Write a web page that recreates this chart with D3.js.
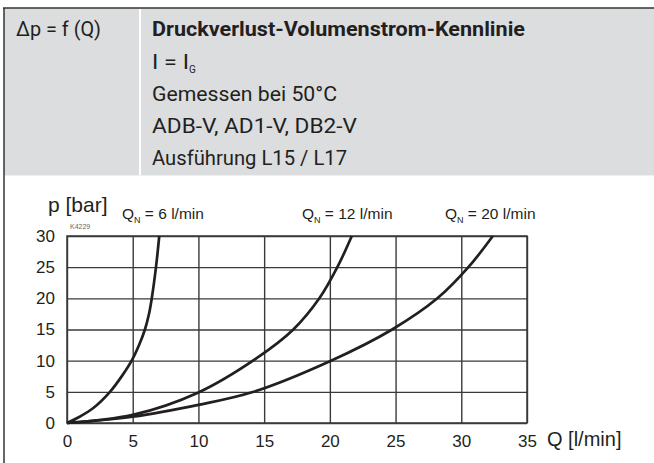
<!DOCTYPE html>
<html>
<head>
<meta charset="utf-8">
<script src="https://cdn.jsdelivr.net/npm/d3@7"></script>
<style>
  body { margin: 0; background: #fff; }
  .hdr { font-family: Roboto, "Liberation Sans", sans-serif; fill: #231f20; }
  .chart text { font-family: "Liberation Sans", Arial, sans-serif; fill: #231f20; }
  .grid line { stroke: #3a3a3a; stroke-width: 1.4; }
  .grid .domain { display: none; }
</style>
</head>
<body>
<svg id="chart" width="654" height="463"></svg>
<script>
/* global d3 */

// header texts
const headerLeft = 'Δp = f (Q)';
const headerTitle = 'Druckverlust-Volumenstrom-Kennlinie';
const headerLines = ['Gemessen bei 50°C', 'ADB-V, AD1-V, DB2-V', 'Ausführung L15 / L17'];

// axes
const xTicks = [0, 5, 10, 15, 20, 25, 30, 35];
const yTicks = [0, 5, 10, 15, 20, 25, 30];

// curves: Q [l/min] -> p [bar]
const q6 = [0, 1, 2, 3.27, 4.2, 4.92, 5.5, 5.93, 6.25, 6.45, 6.77, 7.02];
const p6 = [0, 1.05, 2.4, 5, 7.6, 10, 12.6, 15, 17.6, 20, 25, 30];

const q12 = [0, 5, 10, 14.43, 17.22, 19.2, 20.57, 21.67];
const p12 = [0, 1.3, 4.9, 10.4, 15, 20, 25, 30];

const q20 = [0, 5, 10, 14.2, 20, 24.74, 28.18, 30.54, 32.4];
const p20 = [0, 1.0, 2.9, 5, 9.9, 15, 20, 25, 30];

const curveLabels = [
  { n: '6', x: 122 },
  { n: '12', x: 302 },
  { n: '20', x: 445 },
];

const svg = d3.select('#chart');

/* HEADER */
svg.append('rect')
  .attr('x', 4).attr('y', 8).attr('width', 650).attr('height', 167)
  .attr('fill', '#dcdddf');
svg.append('line')
  .attr('x1', 140).attr('x2', 140).attr('y1', 9).attr('y2', 175)
  .attr('stroke', '#fff').attr('stroke-width', 2);
svg.append('line')
  .attr('x1', 4).attr('x2', 654).attr('y1', 175.5).attr('y2', 175.5)
  .attr('stroke', '#f0f0f0').attr('stroke-width', 1);
svg.append('line')
  .attr('x1', 3).attr('x2', 654).attr('y1', 8).attr('y2', 8)
  .attr('stroke', '#333').attr('stroke-width', 1.5);
svg.append('line')
  .attr('x1', 4).attr('x2', 4).attr('y1', 8).attr('y2', 463)
  .attr('stroke', '#333').attr('stroke-width', 1.5);

// the original uses a condensed face, squeeze each line to its measured width
const hdr = svg.append('g').attr('class', 'hdr').attr('font-size', 20);
hdr.append('text').attr('x', 16).attr('y', 36)
  .attr('textLength', 85).attr('lengthAdjust', 'spacingAndGlyphs')
  .text(headerLeft);
hdr.append('text').attr('x', 152).attr('y', 36)
  .attr('font-weight', 'bold')
  .attr('textLength', 373).attr('lengthAdjust', 'spacingAndGlyphs')
  .text(headerTitle);
const ig = hdr.append('text').attr('x', 152).attr('y', 68.5);
ig.append('tspan').attr('textLength', 37).attr('lengthAdjust', 'spacingAndGlyphs').text('I = I');
ig.append('tspan').attr('font-size', 10).attr('dy', 4).text('G');
const lineWidths = [185, 205, 195];
headerLines.forEach((t, i) => {
  hdr.append('text').attr('x', 152).attr('y', 100.5 + i * 32.3)
    .attr('textLength', lineWidths[i]).attr('lengthAdjust', 'spacingAndGlyphs')
    .text(t);
});

/* CHART */
const x = d3.scaleLinear().domain([0, 35]).range([67, 527]);
const y = d3.scaleLinear().domain([0, 30]).range([423, 236]);

const g = svg.append('g').attr('class', 'chart');

g.append('g')
  .attr('class', 'grid')
  .attr('transform', `translate(0,${y(0)})`)
  .call(d3.axisBottom(x).tickValues(xTicks).tickSize(-(y(0) - y(30))).tickPadding(12))
  .selectAll('text').attr('font-size', 17);

g.append('g')
  .attr('class', 'grid')
  .attr('transform', `translate(${x(0)},0)`)
  .call(d3.axisLeft(y).tickValues(yTicks).tickSize(-(x(35) - x(0))).tickPadding(12))
  .selectAll('text').attr('font-size', 17);

g.append('rect')
  .attr('x', x(0)).attr('y', y(30))
  .attr('width', x(35) - x(0)).attr('height', y(0) - y(30))
  .attr('fill', 'none').attr('stroke', '#3a3a3a').attr('stroke-width', 1.5);

const line = d3.line()
  .x(d => x(d[0]))
  .y(d => y(d[1]))
  .curve(d3.curveCatmullRom.alpha(0.5));

[[q6, p6], [q12, p12], [q20, p20]].forEach(([qs, ps]) => {
  g.append('path')
    .datum(qs.map((q, i) => [q, ps[i]]))
    .attr('fill', 'none')
    .attr('stroke', '#231f20')
    .attr('stroke-width', 2.7)
    .attr('d', line);
});

// axis titles
g.append('text').attr('x', 48).attr('y', 212).attr('font-size', 21).text('p [bar]');
g.append('text').attr('x', 547).attr('y', 446).attr('font-size', 20).text('Q [l/min]');
g.append('text').attr('x', 70).attr('y', 229).attr('font-size', 7)
  .style('fill', '#666').text('K4229');

// curve labels
curveLabels.forEach(c => {
  const t = g.append('text').attr('x', c.x).attr('y', 219).attr('font-size', 15.5);
  t.append('tspan').text('Q');
  t.append('tspan').attr('font-size', 9).attr('dy', 4).text('N');
  t.append('tspan').attr('dy', -4).text(` = ${c.n} l/min`);
});
</script>
</body>
</html>
